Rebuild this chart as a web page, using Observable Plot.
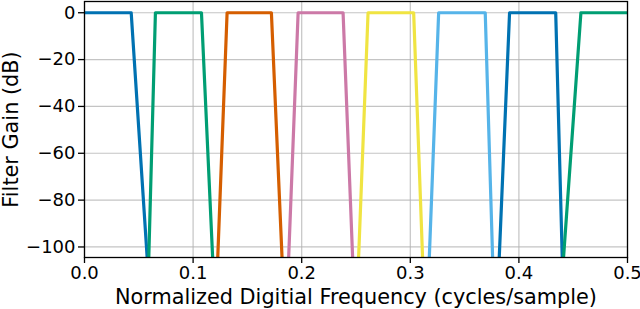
<!DOCTYPE html>
<html>
<head>
<meta charset="utf-8">
<script src="https://cdn.jsdelivr.net/npm/d3@7"></script>
<script src="https://cdn.jsdelivr.net/npm/@observablehq/plot@0.6"></script>
<style>
  html, body { margin: 0; padding: 0; background: #fff; }
</style>
</head>
<body>
<div id="chart"></div>
<script>
// Filter bank: 8 bands
const bandColors = ["#0072B2", "#009E73", "#D55E00", "#CC79A7", "#F0E442", "#56B4E9", "#0072B2", "#009E73"];
// frequency where passband (0 dB) begins / ends
const passStart = [0.0, 0.0653, 0.1313, 0.1967, 0.2611, 0.3261, 0.3914, 0.4571];
const passEnd   = [0.0430, 0.1077, 0.1721, 0.2381, 0.3031, 0.3690, 0.4339, 0.5];
// frequency where the skirt reaches the bottom of the plot (floor dB)
const stopLeft  = [null, 0.0592, 0.1227, 0.1880, 0.2524, 0.3175, 0.3819, 0.4411];
const stopRight = [0.0577, 0.1180, 0.1819, 0.2469, 0.3113, 0.3758, 0.4399, null];
const passGain = 0;
const floorGain = -104.5;

const xTicks = [0, 0.1, 0.2, 0.3, 0.4, 0.5];
const yTicks = [0, -20, -40, -60, -80, -100];
const xLabel = "Normalized Digitial Frequency (cycles/sample)";
const yLabel = "Filter Gain (dB)";

const bands = bandColors.map((color, i) => {
  const pts = [];
  if (stopLeft[i] !== null) pts.push({f: stopLeft[i], g: floorGain});
  pts.push({f: passStart[i], g: passGain});
  pts.push({f: passEnd[i], g: passGain});
  if (stopRight[i] !== null) pts.push({f: stopRight[i], g: floorGain});
  return {color, pts};
});

const fmtY = d => d < 0 ? "\u2212" + Math.abs(d) : String(d);

const chart = Plot.plot({
  width: 640,
  height: 309,
  marginLeft: 84,
  marginRight: 13,
  marginTop: 1,
  marginBottom: 52,
  style: {fontFamily: "DejaVu Sans", fontSize: "18px", background: "#fff", color: "#000", overflow: "visible"},
  x: {domain: [0, 0.5]},
  y: {domain: [floorGain, 4.8]},
  marks: [
    Plot.gridX(xTicks, {stroke: "#b0b0b0", strokeOpacity: 0.75, strokeWidth: 1.2}),
    Plot.gridY(yTicks, {stroke: "#b0b0b0", strokeOpacity: 0.75, strokeWidth: 1.2}),
    ...bands.map(b => Plot.line(b.pts, {x: "f", y: "g", stroke: b.color, strokeWidth: 3.2, clip: true})),
    Plot.frame({stroke: "#000", strokeWidth: 1.3}),
    Plot.axisX({ticks: xTicks, tickFormat: d => d.toFixed(1), tickSize: 6, tickPadding: 3, strokeWidth: 1.3, fontSize: 18, label: null}),
    Plot.axisY({ticks: yTicks, tickFormat: fmtY, tickSize: 6, tickPadding: 3, strokeWidth: 1.3, fontSize: 18, label: null}),
    Plot.text([xLabel], {frameAnchor: "bottom", dy: 40, lineAnchor: "middle", text: d => d, fontSize: 20.8, fill: "#000"}),
    Plot.text([yLabel], {frameAnchor: "left", dx: -73, rotate: -90, lineAnchor: "middle", textAnchor: "middle", text: d => d, fontSize: 20.8, fill: "#000"})
  ]
});
document.getElementById("chart").appendChild(chart);
</script>
</body>
</html>
